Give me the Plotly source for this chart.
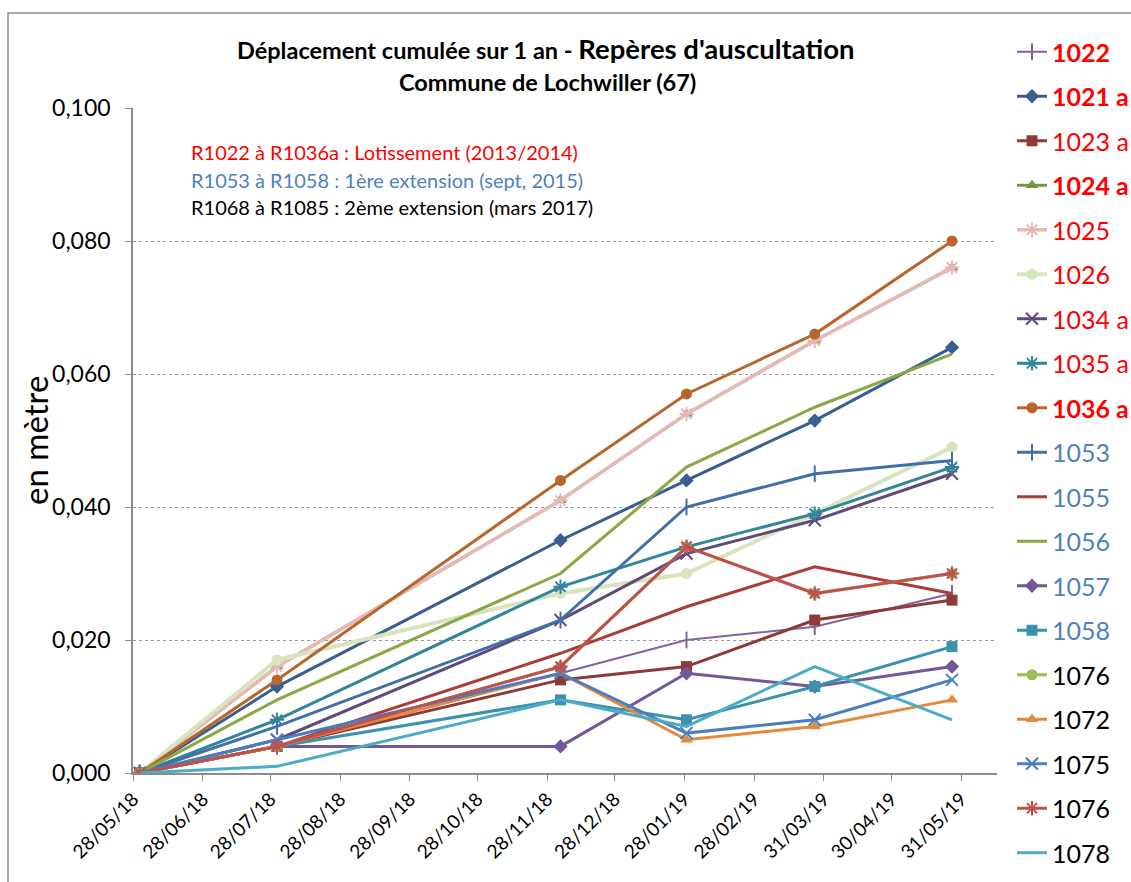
import plotly.graph_objects as go

# ---- data -------------------------------------------------------------
dates = ["2018-05-31", "2018-07-31", "2018-12-04", "2019-01-29", "2019-03-27", "2019-05-27"]

tick_dates = ["2018-05-28", "2018-06-28", "2018-07-28", "2018-08-28", "2018-09-28",
              "2018-10-28", "2018-11-28", "2018-12-28", "2019-01-28", "2019-02-28",
              "2019-03-31", "2019-04-30", "2019-05-31"]
tick_labels = ["28/05/18", "28/06/18", "28/07/18", "28/08/18", "28/09/18", "28/10/18",
               "28/11/18", "28/12/18", "28/01/19", "28/02/19", "31/03/19", "30/04/19",
               "31/05/19"]
y_ticks = [0.0, 0.02, 0.04, 0.06, 0.08, 0.10]

names = ["1022", "1021 a", "1023 a", "1024 a", "1025", "1026", "1034 a", "1035 a", "1036 a",
         "1053", "1055", "1056", "1057", "1058", "1076", "1072", "1075", "1076", "1078"]

v_1022 = [0.000, 0.004, 0.015, 0.020, 0.022, 0.027]
v_1021a = [0.000, 0.013, 0.035, 0.044, 0.053, 0.064]
v_1023a = [0.000, 0.004, 0.014, 0.016, 0.023, 0.026]
v_1024a = [0.000, 0.016, 0.041, 0.054, 0.065, 0.076]
v_1025 = [0.000, 0.016, 0.041, 0.054, 0.065, 0.076]
v_1026 = [0.000, 0.017, 0.027, 0.030, 0.039, 0.049]
v_1034a = [0.000, 0.005, 0.023, 0.033, 0.038, 0.045]
v_1035a = [0.000, 0.008, 0.028, 0.034, 0.039, 0.046]
v_1036a = [0.000, 0.014, 0.044, 0.057, 0.066, 0.080]
v_1053 = [0.000, 0.007, 0.023, 0.040, 0.045, 0.047]
v_1055 = [0.000, 0.004, 0.018, 0.025, 0.031, 0.027]
v_1056 = [0.000, 0.011, 0.030, 0.046, 0.055, 0.063]
v_1057 = [0.000, 0.004, 0.004, 0.015, 0.013, 0.016]
v_1058 = [0.000, 0.004, 0.011, 0.008, 0.013, 0.019]
v_1076g = [0.000, 0.004, 0.016, 0.034, 0.027, 0.030]
v_1072 = [0.000, 0.004, 0.015, 0.005, 0.007, 0.011]
v_1075 = [0.000, 0.005, 0.015, 0.006, 0.008, 0.014]
v_1076r = [0.000, 0.004, 0.016, 0.034, 0.027, 0.030]
v_1078 = [0.000, 0.001, 0.011, 0.007, 0.016, 0.008]

values = [v_1022, v_1021a, v_1023a, v_1024a, v_1025, v_1026, v_1034a, v_1035a, v_1036a,
          v_1053, v_1055, v_1056, v_1057, v_1058, v_1076g, v_1072, v_1075, v_1076r, v_1078]

# ---- styles -----------------------------------------------------------
colors = ["#8064A2", "#3A5F8F", "#8E3A38", "#77933C", "#E6B9B8", "#D7E4BD", "#604A7B",
          "#31859C", "#B7672D", "#4170A8", "#A83D3A", "#8AA845", "#71589A", "#3C92AC",
          "#9BBB59", "#E58A3C", "#4A7EBE", "#C0504D", "#4BACC6"]
symbols = ["line-ns-open", "diamond", "square", "triangle-up", "asterisk-open", "circle",
           "x-thin-open", "asterisk-open", "circle", "line-ns-open", None, None, "diamond",
           "square", "circle", "triangle-up", "x-thin-open", "asterisk-open", None]
widths = [2, 3, 3, 3, 3.5, 4, 3, 3, 3, 3, 3, 3, 3, 3, 3, 3, 3, 3, 3]
label_colors = ["#FF0000"] * 9 + ["#4F81BD"] * 5 + ["#000000"] * 5
label_bold = [True, True, False, True, False, False, False, False, True] + [False] * 10

FONT = "Lato, Open Sans, sans-serif"

# plot area in pixels
L, R, T, B = 133, 997, 108, 773
PW, PH = R - L, B - T


def px_x(x):
    return (x - L) / PW


def px_y(y):
    return (B - y) / PH


fig = go.Figure()
for i, (nm, vals) in enumerate(zip(names, values)):
    sym = symbols[i]
    txt = f"<b>{nm}</b>" if label_bold[i] else nm
    label = f"<span style='color:{label_colors[i]}'>{txt}</span>"
    kw = dict(mode="lines")
    if sym is not None:
        open_sym = sym.endswith("-open")
        kw = dict(mode="lines+markers",
                  marker=dict(symbol=sym, size=11 if not open_sym else 12,
                              color=colors[i],
                              line=dict(color=colors[i], width=2 if open_sym else 0)))
    fig.add_trace(go.Scatter(x=dates, y=vals, name=label, legendgroup=f"g{i}",
                             line=dict(color=colors[i], width=widths[i]), **kw))

fig.update_layout(
    width=1131, height=882,
    margin=dict(l=L, r=1131 - R, t=T, b=882 - B, autoexpand=False),
    paper_bgcolor="white", plot_bgcolor="white",
    separators=", ",
    font=dict(family=FONT, color="#000000"),
    showlegend=True,
    legend=dict(x=px_x(1012), xanchor="left", y=px_y(29), yanchor="top",
                font=dict(size=25, family=FONT), tracegroupgap=9,
                bgcolor="rgba(0,0,0,0)", itemwidth=30, maxheight=875),
)

fig.update_xaxes(type="date", range=["2018-05-28", "2019-06-16"],
                 tickmode="array", tickvals=tick_dates, ticktext=tick_labels,
                 tickangle=-45, tickfont=dict(size=19, family=FONT),
                 showgrid=False, zeroline=False, showline=True, linecolor="#8c8c8c",
                 linewidth=1.5, ticks="outside", ticklen=6, tickcolor="#8c8c8c")
fig.update_yaxes(range=[0, 0.100], tickmode="array", tickvals=y_ticks, tickformat=".3f",
                 tickfont=dict(size=23, family=FONT), ticklabelstandoff=10,
                 showgrid=True, gridcolor="#999999", griddash="dot", gridwidth=1,
                 zeroline=False, showline=True, linecolor="#8c8c8c", linewidth=1.5,
                 ticks="outside", ticklen=6, tickcolor="#8c8c8c")

# y axis title
fig.add_annotation(xref="paper", yref="paper", x=px_x(35), y=px_y(441), xanchor="center",
                   yanchor="middle", showarrow=False, textangle=-90, text="en mètre",
                   font=dict(size=33, family=FONT, color="#000000"))

# titles
fig.add_annotation(xref="paper", yref="paper", x=px_x(546), y=px_y(48), xanchor="center",
                   yanchor="middle", showarrow=False,
                   text="<b>Déplacement cumulée sur 1 an - <span style='font-size:27.5px'>Repères d'auscultation</span></b>",
                   font=dict(size=23.5, family=FONT, color="#000000"))
fig.add_annotation(xref="paper", yref="paper", x=px_x(547), y=px_y(82), xanchor="center",
                   yanchor="middle", showarrow=False,
                   text="<b>Commune de Lochwiller (67)</b>",
                   font=dict(size=23.5, family=FONT, color="#000000"))

# group notes
notes = ["R1022 à R1036a : Lotissement (2013/2014)",
         "R1053 à R1058 : 1ère extension (sept, 2015)",
         "R1068 à R1085 : 2ème extension (mars 2017)"]
note_colors = ["#FF0000", "#4F81BD", "#000000"]
note_ypx = [152, 180, 207]
for t, c, yy in zip(notes, note_colors, note_ypx):
    fig.add_annotation(xref="paper", yref="paper", x=px_x(189), y=px_y(yy), xanchor="left",
                       yanchor="middle", showarrow=False, text=t,
                       font=dict(size=20, family=FONT, color=c))

# outer chart border
fig.add_shape(type="rect", xref="paper", yref="paper",
              x0=px_x(8), x1=px_x(1160), y0=px_y(900), y1=px_y(13),
              line=dict(color="#8c8c8c", width=1.5), fillcolor="rgba(0,0,0,0)", layer="below")

fig.write_html("out.html", config={"displayModeBar": False},
               post_script="document.body.style.margin='0px';")
